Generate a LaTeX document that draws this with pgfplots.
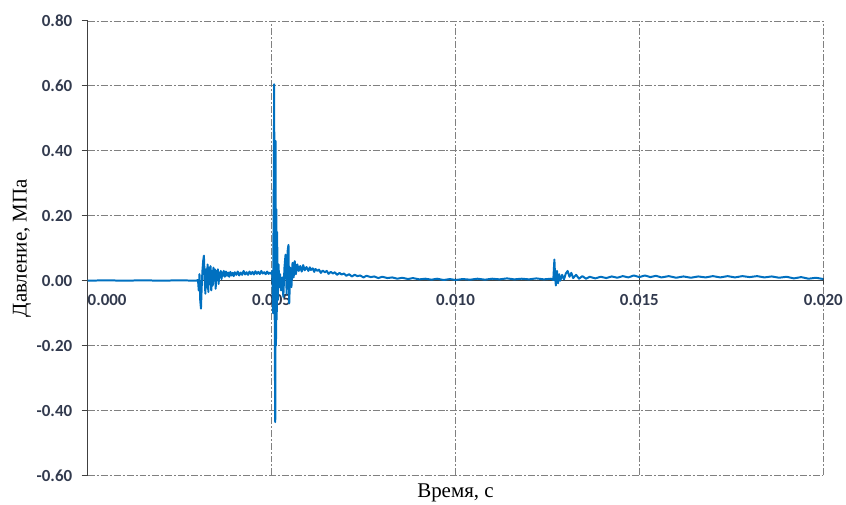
\documentclass[border=0pt]{standalone}
\usepackage{fontspec}
\setmainfont{Liberation Serif}
\newfontfamily\tickfont{Carlito}
\usepackage{pgfplots}
\pgfplotsset{compat=1.18}
\definecolor{sig}{RGB}{0,112,192}
\definecolor{gridc}{RGB}{128,128,128}
\definecolor{axc}{RGB}{64,64,64}
\definecolor{tickc}{RGB}{50,58,78}

\begin{document}
\begin{tikzpicture}
\begin{axis}[scale only axis, width=738pt, height=456pt,
  xmin=0, xmax=0.02, ymin=-0.6, ymax=0.8,
  axis x line=middle, axis y line=left, axis line style={-, axc, line width=1.2pt},
  hide obscured x ticks=false, hide obscured y ticks=false,
  xtick={0,0.005,0.01,0.015,0.02}, ytick={-0.6,-0.4,...,0.81},
  xticklabels={\hphantom{0.000}0.000,0.005,0.010,0.015,0.020},
  scaled x ticks=false, scaled y ticks=false,
  yticklabels={-0.60,-0.40,-0.20,0.00,0.20,0.40,0.60,0.80},
  x tick style={axc, line width=1pt}, y tick style={axc, line width=1pt},
  xtick align=center, ytick align=outside, major tick length=6pt,
  tick label style={font=\tickfont\bfseries\fontsize{17}{20}\selectfont, text=tickc},
  xticklabel style={anchor=north, yshift=-7pt},
  yticklabel style={anchor=east, xshift=-6pt},
  grid=major, grid style={gridc, line width=0.8pt, dash pattern=on 7pt off 2pt on 2pt off 2pt},
  every axis x label/.style={at={(rel axis cs:0.5,-0.0373)}, anchor=center},
  every axis y label/.style={at={(rel axis cs:-0.0894,0.5)}, rotate=90, anchor=center},
  label style={font=\fontsize{21}{25}\selectfont},
  xlabel={Время, с}, ylabel={Давление, МПа},
  clip=false]
\coordinate (bl) at (rel axis cs:-0.1192,-0.0614);
\coordinate (tr) at (rel axis cs:1.0271,1.0461);
\addplot[sig, line width=2pt, line join=round] coordinates {
(0.00000,0.000) (0.00050,0.001) (0.00100,0.000) (0.00150,0.001) (0.00200,0.000) (0.00250,0.001) (0.00295,0.000)
(0.00300,0.002) (0.00302,-0.030) (0.00304,0.020) (0.00306,-0.060) (0.00308,-0.086) (0.00310,-0.020)
(0.00312,0.030) (0.00314,0.060) (0.00316,0.077) (0.00318,0.010) (0.00320,-0.040) (0.00322,0.035)
(0.00324,-0.020) (0.00326,0.050) (0.00328,-0.035) (0.00330,0.040) (0.00332,-0.010) (0.00334,0.045)
(0.00336,-0.030) (0.00338,0.030) (0.00340,-0.015) (0.00342,0.040) (0.00344,0.000) (0.00346,0.035)
(0.00348,-0.025) (0.00350,0.030) (0.00352,0.005) (0.00354,0.035) (0.00356,-0.010) (0.00358,0.025)
(0.00360,0.010) (0.00362,0.030) (0.00364,0.005) (0.00366,0.025) (0.00368,0.015) (0.00370,0.030)
(0.00373,0.012) (0.00376,0.028) (0.00379,0.015) (0.00382,0.025) (0.00385,0.012) (0.00388,0.027)
(0.00391,0.016) (0.00394,0.024) (0.00397,0.014) (0.00400,0.026) (0.00404,0.018) (0.00408,0.028)
(0.00412,0.016) (0.00416,0.025) (0.00420,0.018) (0.00424,0.030) (0.00428,0.019) (0.00432,0.026)
(0.00436,0.018) (0.00440,0.028) (0.00444,0.020) (0.00448,0.027) (0.00452,0.019) (0.00456,0.029)
(0.00460,0.021) (0.00464,0.027) (0.00468,0.020) (0.00472,0.030) (0.00476,0.022) (0.00480,0.026)
(0.00484,0.020) (0.00488,0.028) (0.00492,0.021) (0.00496,0.025) (0.00500,0.020)
(0.00502,0.030) (0.00504,-0.100) (0.00506,0.300) (0.00507,0.605) (0.00508,0.100) (0.00509,-0.250)
(0.00510,-0.436) (0.00511,0.430) (0.00512,-0.200) (0.00513,0.220) (0.00514,-0.120) (0.00515,0.150)
(0.00517,-0.060) (0.00519,0.050) (0.00521,-0.020) (0.00523,0.020) (0.00526,-0.030) (0.00529,0.010)
(0.00532,-0.050) (0.00535,0.040) (0.00538,0.080) (0.00541,-0.040) (0.00544,0.095) (0.00546,0.110)
(0.00548,-0.070) (0.00551,0.040) (0.00554,-0.020) (0.00557,0.055) (0.00560,0.010) (0.00563,0.060)
(0.00566,0.020) (0.00570,0.050) (0.00574,0.030) (0.00578,0.045) (0.00582,0.028) (0.00586,0.048)
(0.00590,0.032) (0.00595,0.042) (0.00600,0.030) (0.00604,0.041) (0.00607,0.033) (0.00612,0.038)
(0.00616,0.027) (0.00619,0.036) (0.00625,0.030) (0.00629,0.034) (0.00634,0.024) (0.00639,0.031)
(0.00645,0.026) (0.00650,0.030) (0.00655,0.021) (0.00661,0.027) (0.00667,0.022) (0.00672,0.026)
(0.00678,0.018) (0.00685,0.024) (0.00690,0.019) (0.00697,0.022) (0.00703,0.015) (0.00711,0.020)
(0.00718,0.013) (0.00726,0.018) (0.00733,0.014) (0.00741,0.016) (0.00750,0.010) (0.00758,0.015)
(0.00770,0.011) (0.00779,0.013) (0.00790,0.008) (0.00801,0.012) (0.00815,0.008) (0.00828,0.010)
(0.00842,0.006) (0.00855,0.009) (0.00871,0.005) (0.00884,0.008) (0.00902,0.004) (0.00918,0.006)
(0.00935,0.003) (0.00950,0.006) (0.00968,0.002) (0.00985,0.005) (0.01000,0.002) (0.01020,0.005)
(0.01040,0.003) (0.01060,0.006) (0.01080,0.003) (0.01100,0.006) (0.01120,0.004) (0.01140,0.007)
(0.01160,0.004) (0.01180,0.006) (0.01200,0.004) (0.01220,0.007) (0.01240,0.004) (0.01260,0.006)
(0.01266,0.002) (0.01269,0.065) (0.01271,0.010) (0.01273,-0.015) (0.01276,0.030) (0.01279,-0.008)
(0.01282,0.020) (0.01285,0.000) (0.01290,0.018) (0.01295,0.004) (0.01300,0.022) (0.01305,0.030)
(0.01310,0.012) (0.01315,0.024) (0.01320,0.008) (0.01328,0.018) (0.01336,0.006) (0.01345,0.014)
(0.01355,0.006) (0.01365,0.012) (0.01380,0.007) (0.01395,0.012) (0.01410,0.008) (0.01425,0.013)
(0.01440,0.009) (0.01455,0.014) (0.01470,0.010) (0.01485,0.016) (0.01500,0.011) (0.01515,0.016)
(0.01530,0.011) (0.01545,0.015) (0.01560,0.010) (0.01580,0.014) (0.01600,0.009) (0.01620,0.013)
(0.01640,0.009) (0.01660,0.013) (0.01680,0.010) (0.01700,0.014) (0.01720,0.010) (0.01740,0.014)
(0.01760,0.010) (0.01780,0.014) (0.01800,0.011) (0.01820,0.014) (0.01840,0.010) (0.01860,0.013)
(0.01880,0.009) (0.01900,0.012) (0.01920,0.007) (0.01940,0.011) (0.01960,0.006) (0.01980,0.009)
(0.02000,0.005)
};
\end{axis}
\path (bl) rectangle (tr);
\end{tikzpicture}
\end{document}
